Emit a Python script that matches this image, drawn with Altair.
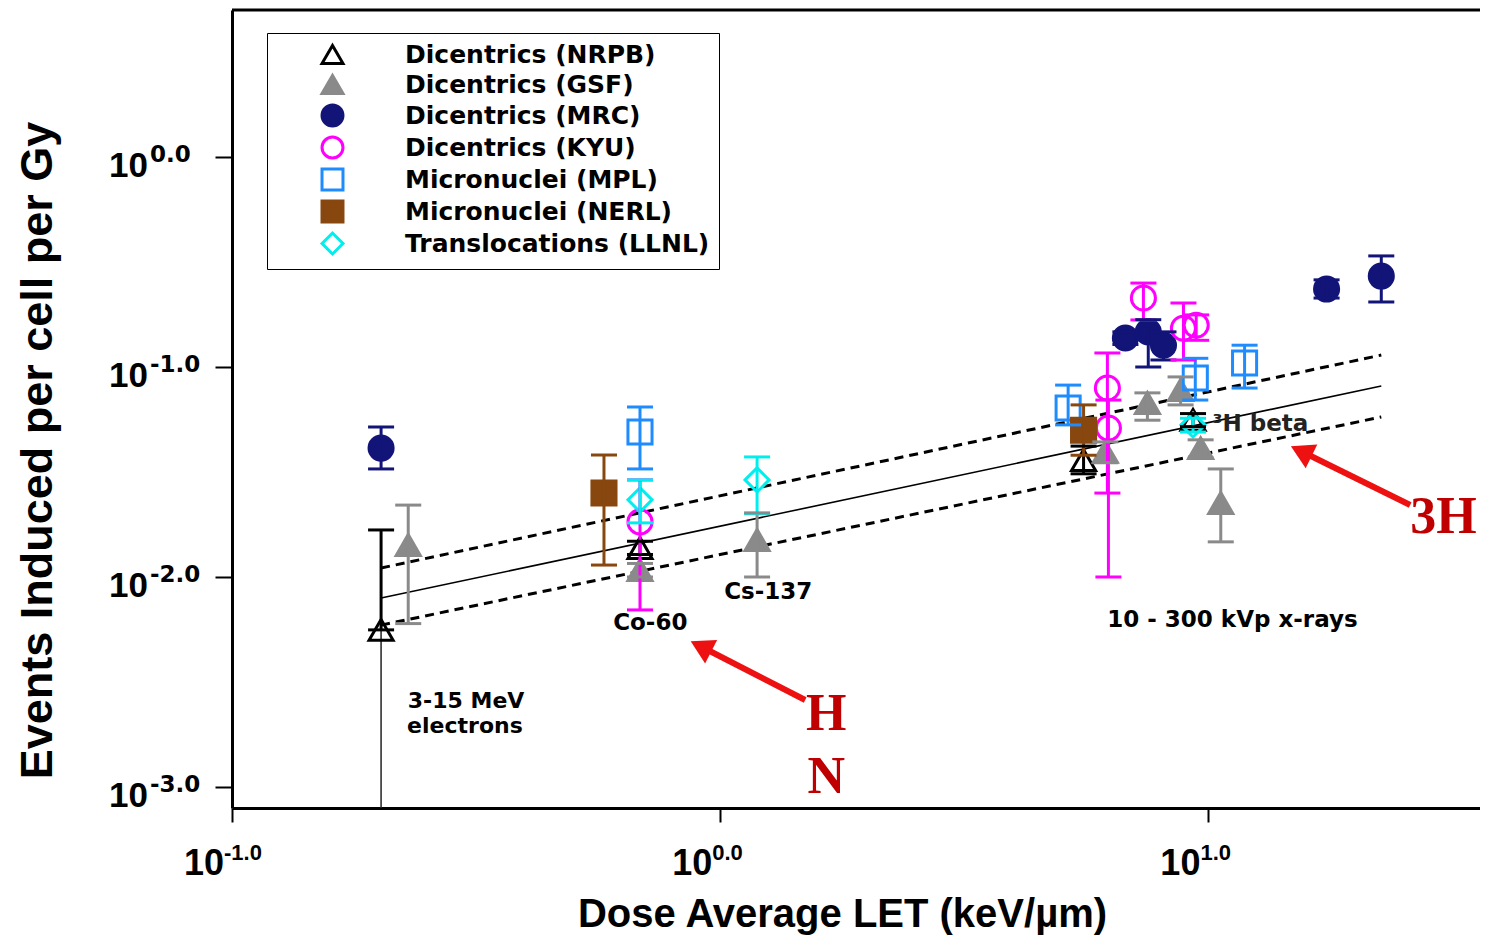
import altair as alt
import pandas as pd

# ---------------- data ----------------
series_order = ["Dicentrics (NRPB)", "Dicentrics (GSF)", "Dicentrics (MRC)", "Dicentrics (KYU)",
                "Micronuclei (MPL)", "Micronuclei (NERL)", "Translocations (LLNL)"]
shapes = ["triangle-up", "triangle-up", "circle", "circle", "square", "square", "diamond"]
stroke_colors = ["#000000", "#8a8a8a", "#121478", "#ff00ff", "#1e8cff", "#87470f", "#00eeee"]
fill_colors = ["transparent", "#8a8a8a", "#121478", "transparent", "transparent", "#87470f", "transparent"]

nrpb_let = [0.202, 0.685, 5.55, 9.3]
nrpb_y = [0.0056, 0.01375, 0.036, 0.056]
nrpb_lo = [0.0056, 0.0128, 0.031, 0.052]
nrpb_hi = [0.01675, 0.0148, 0.042, 0.060]

gsf_let = [0.2296, 0.685, 1.19, 6.15, 7.5, 8.77, 9.64, 10.6]
gsf_y = [0.0142, 0.0108, 0.0150, 0.0394, 0.0674, 0.0777, 0.0411, 0.0225]
gsf_lo = [0.0060, 0.0100, 0.0100, 0.0350, 0.0558, 0.0660, 0.0369, 0.0147]
gsf_hi = [0.0220, 0.0116, 0.0202, 0.0440, 0.0753, 0.0897, 0.0450, 0.0327]

mrc_let = [0.202, 6.76, 7.53, 8.09, 17.46, 22.6]
mrc_y = [0.0411, 0.1375, 0.147, 0.127, 0.235, 0.271]
mrc_lo = [0.0327, 0.128, 0.100, 0.108, 0.213, 0.204]
mrc_hi = [0.0518, 0.147, 0.168, 0.147, 0.260, 0.338]

kyu_let = [0.685, 6.21, 6.24, 7.36, 8.89, 9.44]
kyu_y = [0.0183, 0.0794, 0.0512, 0.213, 0.153, 0.158]
kyu_lo = [0.00697, 0.0251, 0.0100, 0.1675, 0.108, 0.134]
kyu_hi = [0.0290, 0.1166, 0.0696, 0.251, 0.2017, 0.177]

mpl_let = [0.685, 5.16, 9.4, 11.86]
mpl_y = [0.0490, 0.0638, 0.0886, 0.1045]
mpl_lo = [0.0327, 0.053, 0.0696, 0.0794]
mpl_hi = [0.0645, 0.082, 0.110, 0.127]

nerl_let = [0.578, 5.55]
nerl_y = [0.0251, 0.050]
nerl_lo = [0.0114, 0.038]
nerl_hi = [0.0381, 0.066]

llnl_let = [0.685, 1.19, 9.3]
llnl_y = [0.0233, 0.0290, 0.053]
llnl_lo = [0.0181, 0.0200, 0.049]
llnl_hi = [0.0290, 0.0373, 0.057]

# thin lower whisker of the electron NRPB point (runs off the axis)
thin_let = [0.202]
thin_y = [0.0056]
thin_y2 = [0.0005]

# fitted line and confidence band (end points)
fit_let = [0.202, 22.6]
fit_mid = [0.00794, 0.0812]
fit_up = [0.01104, 0.114]
fit_lo = [0.0059, 0.0578]

# annotations
note_text = ["Co-60", "Cs-137", "10 - 300 kVp x-rays"]
note_let = [0.719, 1.254, 11.2]
note_y = [0.0056, 0.00786, 0.00578]
elec_text = ["3-15 MeV", "electrons"]
elec_let = [0.3016, 0.300]
elec_y = [0.00238, 0.00180]
beta_text = ["\u00b3H beta"]
beta_let = [10.19]
beta_y = [0.0496]

red_text = ["H", "N", "3H"]
red_let = [1.649, 1.649, 30.3]
red_y = [0.001868, 0.000936, 0.01621]

arrow_id = ["a", "a", "b", "b"]
arrow_let = [1.493, 0.913, 25.9, 15.49]
arrow_y = [0.002596, 0.004667, 0.02203, 0.0397]
head_let = [0.913, 15.49]
head_y = [0.004667, 0.0397]
head_angle = [297, 296]

x_tick_vals = [0.1, 1.0, 10.0]
x_tick_sup = ["-1.0", "0.0", "1.0"]
y_tick_vals = [1.0, 0.1, 0.01, 0.001]
y_tick_sup = ["0.0", "-1.0", "-2.0", "-3.0"]

CAP_FACTOR = 1.0633  # half-width of an error-bar cap on the log x axis (about 13 px)

# ---------------- tables ----------------
rows = []
for name, L, Y, LO, HI in [
    (series_order[0], nrpb_let, nrpb_y, nrpb_lo, nrpb_hi),
    (series_order[1], gsf_let, gsf_y, gsf_lo, gsf_hi),
    (series_order[2], mrc_let, mrc_y, mrc_lo, mrc_hi),
    (series_order[3], kyu_let, kyu_y, kyu_lo, kyu_hi),
    (series_order[4], mpl_let, mpl_y, mpl_lo, mpl_hi),
    (series_order[5], nerl_let, nerl_y, nerl_lo, nerl_hi),
    (series_order[6], llnl_let, llnl_y, llnl_lo, llnl_hi),
]:
    for a, b, c, d in zip(L, Y, LO, HI):
        rows.append({"series": name, "let": a, "y": b, "lo": c, "hi": d,
                     "cl": a / CAP_FACTOR, "cr": a * CAP_FACTOR})
df = pd.DataFrame(rows)
df_err = df[df["hi"] > df["lo"] * 1.02]

W, H = 1248, 798
xscale = alt.Scale(type="log", domain=[0.1, 36.0], nice=False)
yscale = alt.Scale(type="log", domain=[0.00079433, 5.0119], nice=False)

SANS = "Liberation Sans, Arial, sans-serif"
WIDE = "DejaVu Sans, sans-serif"

xaxis = alt.Axis(values=x_tick_vals, labels=False, grid=False, tickSize=14, tickWidth=2,
                 tickColor="black", domainColor="black", domainWidth=3,
                 title="Dose Average LET (keV/\u00b5m)", titleFont=SANS, titleFontSize=40,
                 titleFontWeight="bold", titleColor="black", titleX=610, titleY=118,
                 titleAlign="center", titleBaseline="alphabetic", titleAnchor="middle")
yaxis = alt.Axis(values=y_tick_vals, labels=False, grid=False, tickSize=17, tickWidth=2,
                 tickColor="black", domainColor="black", domainWidth=3,
                 title="Events Induced per cell per Gy", titleFont=SANS, titleFontSize=45,
                 titleFontWeight="bold", titleColor="black", titleX=-195, titleY=440,
                 titleAngle=270, titleAlign="center", titleBaseline="middle")

X = alt.X("let:Q", scale=xscale, axis=xaxis)
Y = alt.Y("y:Q", scale=yscale, axis=yaxis)

leg = alt.Legend(title=None, orient="none", legendX=35, legendY=23, padding=9,
                 strokeColor="black", fillColor="white", symbolStrokeWidth=3, symbolSize=440,
                 symbolOffset=44, labelOffset=60, labelFont=WIDE, labelFontSize=25,
                 labelFontWeight="bold", labelColor="black", labelLimit=500, rowPadding=-1,
                 symbolOpacity=1)
color_enc = alt.Color("series:N", scale=alt.Scale(domain=series_order, range=stroke_colors), legend=leg)

base = alt.Chart(df)

# fit lines
fit_df = pd.DataFrame({"let": fit_let * 3, "y": fit_mid + fit_up + fit_lo,
                       "kind": ["mid"] * 2 + ["up"] * 2 + ["lo"] * 2})
fit_solid = alt.Chart(fit_df[fit_df["kind"] == "mid"]).mark_line(color="black", strokeWidth=1.6, clip=True).encode(
    x=X, y=Y)
fit_dash = alt.Chart(fit_df[fit_df["kind"] != "mid"]).mark_line(
    color="black", strokeWidth=3, strokeDash=[9, 6], clip=True).encode(x=X, y=Y, detail="kind:N")

thin = alt.Chart(pd.DataFrame({"let": thin_let, "y": thin_y, "y2": thin_y2})).mark_rule(
    color="#222222", strokeWidth=1.5, clip=True).encode(x=X, y=Y, y2="y2:Q")

pts = base.mark_point(size=580, strokeWidth=3, opacity=1, filled=False, clip=True).encode(
    x=X, y=Y,
    color=color_enc,
    shape=alt.Shape("series:N", scale=alt.Scale(domain=series_order, range=shapes), legend=leg),
    fill=alt.Fill("series:N", scale=alt.Scale(domain=series_order, range=fill_colors), legend=leg),
)

err = alt.Chart(df_err).mark_rule(strokeWidth=3, clip=True).encode(
    x=X, y=alt.Y("lo:Q", scale=yscale, axis=yaxis), y2="hi:Q", color=color_enc)
cap_lo = alt.Chart(df_err).mark_rule(strokeWidth=3, clip=True).encode(
    x=alt.X("cl:Q", scale=xscale, axis=xaxis), x2="cr:Q",
    y=alt.Y("lo:Q", scale=yscale, axis=yaxis), color=color_enc)
cap_hi = alt.Chart(df_err).mark_rule(strokeWidth=3, clip=True).encode(
    x=alt.X("cl:Q", scale=xscale, axis=xaxis), x2="cr:Q",
    y=alt.Y("hi:Q", scale=yscale, axis=yaxis), color=color_enc)

notes = alt.Chart(pd.DataFrame({"let": note_let, "y": note_y, "t": note_text})).mark_text(
    font=WIDE, fontSize=23, fontWeight="bold", color="black", align="center", baseline="alphabetic").encode(
    x=X, y=Y, text="t:N")
elec = alt.Chart(pd.DataFrame({"let": elec_let, "y": elec_y, "t": elec_text})).mark_text(
    font=WIDE, fontSize=22, fontWeight="bold", color="black", align="center", baseline="alphabetic").encode(
    x=X, y=Y, text="t:N")
beta = alt.Chart(pd.DataFrame({"let": beta_let, "y": beta_y, "t": beta_text})).mark_text(
    font=WIDE, fontSize=23, fontWeight="bold", color="#222222", align="left", baseline="alphabetic").encode(
    x=X, y=Y, text="t:N")

arrows = alt.Chart(pd.DataFrame({"let": arrow_let, "y": arrow_y, "id": arrow_id})).mark_line(
    color="#ee1111", strokeWidth=6, clip=True).encode(x=X, y=Y, detail="id:N")
heads = alt.Chart(pd.DataFrame({"let": head_let, "y": head_y, "ang": head_angle})).mark_point(
    shape="triangle-up", filled=True, color="#ee1111", size=700, opacity=1).encode(
    x=X, y=Y, angle=alt.Angle("ang:Q", scale=None))
red = alt.Chart(pd.DataFrame({"let": red_let, "y": red_y, "t": red_text})).mark_text(
    font="Liberation Serif, Times New Roman, serif", fontSize=52, fontWeight="bold", color="#c00000",
    align="center", baseline="alphabetic").encode(x=X, y=Y, text="t:N")

# tick labels 10^k with superscripts
xt = pd.DataFrame({"let": x_tick_vals, "b": ["10"] * 3, "s": x_tick_sup})
xlab_b = alt.Chart(xt).mark_text(font=SANS, fontSize=36, fontWeight="bold", color="black",
                                 align="right", baseline="alphabetic", dx=-8).encode(
    x=X, y=alt.value(865), text="b:N")
xlab_s = alt.Chart(xt).mark_text(font=SANS, fontSize=22, fontWeight="bold", color="black",
                                 align="left", baseline="alphabetic", dx=-8).encode(
    x=X, y=alt.value(850), text="s:N")
yt = pd.DataFrame({"y": y_tick_vals, "b": ["10"] * 4, "s": y_tick_sup})
ylab_b = alt.Chart(yt).mark_text(font=SANS, fontSize=35, fontWeight="bold", color="black",
                                 align="right", baseline="alphabetic", dy=20).encode(
    x=alt.value(-84), y=Y, text="b:N")
ylab_s = alt.Chart(yt).mark_text(font=WIDE, fontSize=23, fontWeight="bold", color="black",
                                 align="left", baseline="alphabetic", dy=5).encode(
    x=alt.value(-82), y=Y, text="s:N")

top_line = alt.Chart(pd.DataFrame({"k": [0]})).mark_rule(color="black", strokeWidth=3).encode(
    x=alt.value(0), x2=alt.value(W), y=alt.value(0))

chart = alt.layer(
    top_line, fit_solid, fit_dash, thin, pts, err, cap_lo, cap_hi, notes, elec, beta,
    arrows, heads, red, xlab_b, xlab_s, ylab_b, ylab_s
).properties(
    width=W, height=H,
    padding={"left": 224, "top": 2, "right": 0, "bottom": 128},
    autosize=alt.AutoSizeParams(type="none"),
    background="white",
).configure_view(stroke=None)

chart.save("out.html", embed_options={"renderer": "svg", "actions": False})
